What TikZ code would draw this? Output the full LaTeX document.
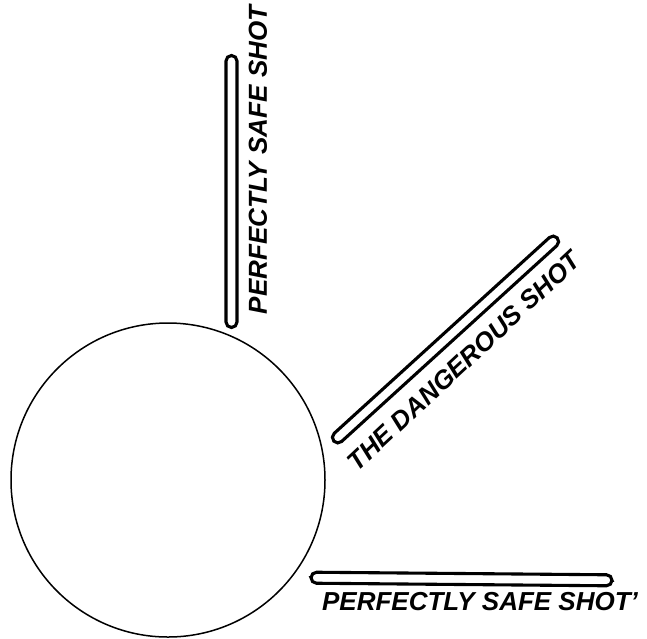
\documentclass[tikz,border=0pt]{standalone}
\usepackage{fontspec}
\setmainfont{Liberation Sans}
\usepackage{tikz}
\usetikzlibrary{positioning, calc}

\begin{document}
\begin{tikzpicture}[
  x=1pt, y=-1pt,
  ball/.style={circle, draw=black, line width=1.5pt, inner sep=0pt},
  cue/.style={draw=black, line width=3.1pt, rounded corners=5.5pt,
              inner sep=0pt, minimum height=11pt},
  shotlabel/.style={font=\fontsize{26}{26}\selectfont\bfseries\itshape,
                    inner sep=0pt, anchor=center},
]
  \useasboundingbox (0,0) rectangle (647,638);

  % the ball
  \node[ball, minimum size=314pt] (ball) at (168,480) {};

  % the three shots
  \node[cue, minimum width=272pt, rotate=90] (safeup) at (231.5,191.5) {};
  \node[cue, minimum width=302pt, rotate=42.3] (danger) at (445.5,339.5) {};
  \node[cue, minimum width=301pt, rotate=-0.5] (safeside) at (461.5,579) {};

  \node[shotlabel, rotate=90] (safeuplabel) at (258,160) {PERFECTLY SAFE SHOT};
  \node[shotlabel, rotate=43] (dangerlabel) at (464,361) {THE DANGEROUS SHOT};
  \node[shotlabel] (safesidelabel) at (480,602) {PERFECTLY SAFE SHOT'};
\end{tikzpicture}
\end{document}
